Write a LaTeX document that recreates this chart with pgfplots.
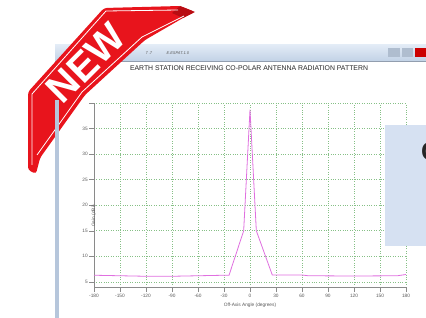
\documentclass[border=0pt]{standalone}
\usepackage{fontspec}
\setmainfont{Liberation Sans}
\usepackage{pgfplots}
\pgfplotsset{compat=1.18}
\definecolor{gridgreen}{HTML}{86C086}
\definecolor{curvecol}{HTML}{E070E0}
\definecolor{ribred}{HTML}{E8141C}
\definecolor{ribdark}{HTML}{B80C12}
\definecolor{winborder}{HTML}{B6C6DB}
\definecolor{bartop}{HTML}{E2EBF6}
\definecolor{barbot}{HTML}{C2D2E6}
\definecolor{sidebox}{HTML}{D6E1F2}
\definecolor{axgray}{HTML}{8A8A8A}
\definecolor{txtgray}{HTML}{5A5A5A}
\begin{document}
\begin{tikzpicture}[x=1bp,y=1bp]
\useasboundingbox (0,0) rectangle (426,318);
\begin{scope}
\clip (0,0) rectangle (426,318);
\fill[white] (0,0) rectangle (426,318);
% window frame
\shade[top color=bartop, bottom color=barbot] (55,257) rectangle (426,273);
\draw[winborder!80!black, line width=0.3bp] (55,257) -- (426,257);
\node[font=\fontsize{4}{5}\selectfont\itshape, text=txtgray, anchor=west] at (70,265) {SPEC-00001.1};
\node[font=\fontsize{4}{5}\selectfont\itshape, text=txtgray, anchor=west] at (142,265) {7 .7};
\node[font=\fontsize{4}{5}\selectfont\itshape, text=txtgray, anchor=west] at (163,265) {E.ESPAT.1.0};
% window buttons
\fill[barbot!90!black] (388,261) rectangle (400,270);
\fill[barbot!90!black] (402,261) rectangle (413,270);
\fill[red!80!black] (415,261) rectangle (427,270);
% title
\node[font=\fontsize{6.9}{8}\selectfont, text=black!85] at (249,250) {EARTH STATION RECEIVING CO-POLAR ANTENNA RADIATION PATTERN};
% axis
\begin{axis}[
  at={(94bp,31bp)}, anchor=south west,
  scale only axis, width=312bp, height=184bp,
  xmin=-180, xmax=180, ymin=4, ymax=40,
  axis lines=left,
  axis line style={-, draw=axgray, line width=0.6bp},
  xtick={-180,-150,...,180},
  ytick={5,10,15,20,25,30,35,40},
  yticklabels={5,10,15,20,25,30,35,{}},
  tick align=outside,
  major tick length=5bp,
  tick style={draw=axgray, line width=0.5bp},
  grid=major,
  major grid style={draw=gridgreen, dotted, line width=0.6bp},
  /pgf/number format/assume math mode=true,
  ticklabel style={font=\fontsize{4.8}{5}\selectfont, text=txtgray},
  xticklabel style={inner sep=1bp, yshift=-0.5bp},
  yticklabel style={inner sep=1bp},
  xlabel={Off-Axis Angle (degrees)},
  ylabel={Gain (dBi)},
  label style={font=\fontsize{4.8}{5}\selectfont, text=txtgray},
  xlabel style={at={(axis description cs:0.5,0)}, anchor=center, yshift=-18bp},
  ylabel style={at={(axis description cs:0,0.516)}, anchor=center, xshift=-24bp},
  clip=false,
]
\addplot[curvecol, line width=0.8bp] coordinates {
(-180,6.3) (-150,6.2) (-120,6.1) (-90,6.1) (-60,6.2) (-30,6.3) (-24.2,6.3)
(-7.3,15.0) (0,38.7) (7.3,15.0) (25.7,6.35) (60,6.35) (67,6.2) (120,6.15) (170,6.2) (180,6.45)
};
\end{axis}
% side box
\fill[sidebox] (385,72) rectangle (426,193);
\node[font=\fontsize{26}{28}\selectfont\bfseries, text=black!85, anchor=west, inner sep=0] at (421,166) {C};
% ribbon (pixel y converted: Y = 318 - py)
\fill[ribred, rounded corners=3bp] (28,148) -- (28,226) -- (104,310) -- (180,312) -- (195,306)
  -- (183,300) -- (145,278) -- (85,223) -- (40,160) -- (36,144) -- cycle;
\fill[ribdark] (180,312) -- (195,306) -- (183,300) -- (172,305) -- cycle;
\draw[white, line width=0.8bp] (32,153) -- (32,224) -- (106,307) -- (178,308);
\draw[white, line width=0.8bp] (184,302) -- (142,281) -- (82,226) -- (37,163);
% window left border (over the ribbon tail)
\fill[winborder] (55,0) rectangle (59,218);
\node[font=\fontsize{40}{40}\selectfont\bfseries, text=white, rotate=45] at (86,255) {NEW};
\end{scope}
\end{tikzpicture}
\end{document}
